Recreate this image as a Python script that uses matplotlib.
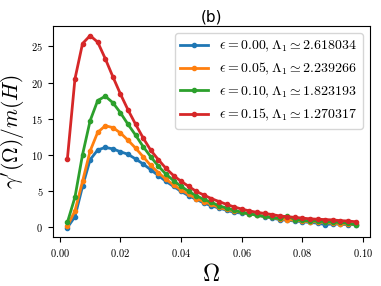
import numpy as np
import matplotlib
matplotlib.use('Agg')
import matplotlib.pyplot as plt
from matplotlib.ticker import FormatStrFormatter

plt.rcParams['mathtext.fontset'] = 'cm'

# Omega grid
omega = [0.0025 * k for k in range(1, 40)]

# gamma'(Omega)/m(H) for each epsilon
eps_000 = [-0.1, 1.4, 5.6, 9.3, 10.65, 11.0, 10.8, 10.4, 10.05, 9.4,
           8.7, 7.9, 7.1, 6.3, 5.6, 4.9, 4.3, 3.8, 3.3, 2.9,
           2.6, 2.3, 2.0, 1.9, 1.8, 1.6, 1.4, 1.2, 1.0, 0.9,
           0.8, 0.7, 0.6, 0.5, 0.3, 0.4, 0.35, 0.3, 0.3]
eps_005 = [0.1, 2.2, 6.3, 10.5, 13.1, 14.0, 13.75, 13.0, 12.0, 10.9,
           9.7, 8.5, 7.5, 6.6, 5.8, 5.1, 4.5, 3.9, 3.5, 3.1,
           2.7, 2.4, 2.2, 2.0, 1.8, 1.6, 1.45, 1.3, 1.1, 1.0,
           0.9, 0.8, 0.7, 0.7, 0.6, 0.5, 0.45, 0.35, 0.4]
eps_010 = [0.6, 4.1, 10.0, 14.7, 17.5, 18.1, 17.2, 15.8, 14.2, 12.7,
           11.1, 9.7, 8.4, 7.3, 6.4, 5.6, 4.9, 4.3, 3.8, 3.4,
           2.9, 2.6, 2.3, 2.0, 1.8, 1.6, 1.45, 1.3, 1.15, 1.5,
           1.0, 0.9, 0.8, 0.8, 0.7, 0.65, 0.6, 0.5, 0.3]
eps_015 = [9.4, 20.5, 25.4, 26.5, 25.6, 23.3, 20.8, 18.4, 16.2, 14.2,
           12.3, 10.6, 9.3, 8.1, 7.1, 6.3, 5.6, 4.9, 4.4, 3.9,
           3.5, 3.1, 2.75, 2.45, 2.2, 2.0, 1.85, 1.7, 1.5, 1.4,
           1.3, 1.2, 1.1, 1.05, 1.0, 0.95, 0.85, 0.8, 0.7]

labels = [r'$\epsilon=0.00, \Lambda_1\simeq 2.618034$',
          r'$\epsilon=0.05, \Lambda_1\simeq 2.239266$',
          r'$\epsilon=0.10, \Lambda_1\simeq 1.823193$',
          r'$\epsilon=0.15, \Lambda_1\simeq 1.270317$']

fig = plt.figure(figsize=(3.81, 2.86), dpi=100)
ax = fig.add_axes([0.139, 0.171, 0.832, 0.738])

for ys, lab in zip([eps_000, eps_005, eps_010, eps_015], labels):
    ax.plot(omega, ys, '-o', lw=2, ms=3, label=lab)

ax.set_xticks([0.0, 0.02, 0.04, 0.06, 0.08, 0.10])
ax.set_yticks([0, 5, 10, 15, 20, 25])
ax.xaxis.set_major_formatter(FormatStrFormatter('$%.2f$'))
ax.yaxis.set_major_formatter(FormatStrFormatter('$%d$'))
ax.tick_params(labelsize=7.5)

ax.set_xlabel(r'$\Omega$', fontsize=17, labelpad=2)
ax.set_ylabel(r'$\gamma^\prime(\Omega)/m(H)$', fontsize=15.5)
ax.yaxis.set_label_coords(-0.082, 0.5)
ax.set_title('(b)', fontsize=11, pad=3)
ax.legend(loc='upper right', fontsize=10)

fig.savefig('out.png', dpi=100)
